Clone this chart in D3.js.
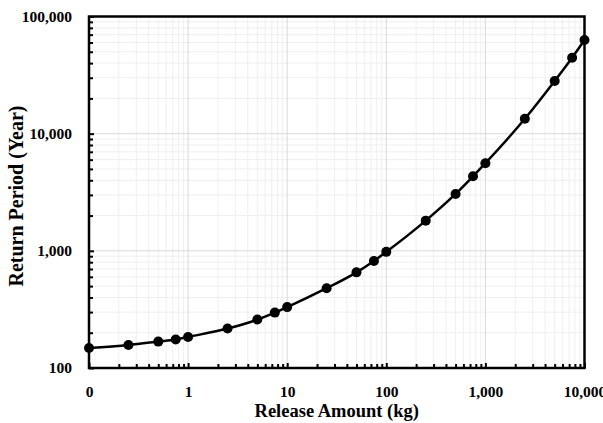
<!DOCTYPE html>
<html>
<head>
<meta charset="utf-8">
<script src="https://cdnjs.cloudflare.com/ajax/libs/d3/7.8.5/d3.min.js"></script>
<style>
  body { margin: 0; background: #fff; }
  svg text { font-family: "Liberation Serif", "Times New Roman", "DejaVu Serif", serif; font-weight: bold; fill: #000; }
</style>
</head>
<body>
<div id="chart-area"></div>
<script>
// Data
var releaseKg = [0.1, 0.25, 0.5, 0.75, 1, 2.5, 5, 7.5, 10, 25, 50, 75, 100, 250, 500, 750, 1000, 2500, 5000, 7500, 10000];
var returnYears = [148, 157, 168, 175, 184, 217, 259, 297, 331, 480, 655, 820, 980, 1810, 3060, 4330, 5600, 13400, 28200, 44500, 63000];
var xTicks = [0.1, 1, 10, 100, 1000, 10000];
var yTicks = [100, 1000, 10000, 100000];

var width = 603, height = 423;
var plotLeft = 89, plotRight = 584.5, plotTop = 16.5, plotBottom = 368;

var svg = d3.select("#chart-area")
  .append("svg")
    .attr("width", width)
    .attr("height", height);

var x = d3.scaleLog().domain([0.1, 10000]).range([plotLeft, plotRight]);
var y = d3.scaleLog().domain([100, 100000]).range([plotBottom, plotTop]);

// minor positions 2..9 in each decade
function minors(ticks) {
  var out = [];
  ticks.slice(0, -1).forEach(function (t) {
    for (var k = 2; k <= 9; k++) out.push(t * k);
  });
  return out;
}
var xMinor = minors(xTicks);
var yMinor = minors(yTicks);

// Gridlines
var grid = svg.append("g");
grid.selectAll(".xminor").data(xMinor).enter().append("line")
  .attr("x1", function (d) { return x(d); }).attr("x2", function (d) { return x(d); })
  .attr("y1", plotTop).attr("y2", plotBottom)
  .attr("stroke", "#efefef").attr("stroke-width", 1);
grid.selectAll(".yminor").data(yMinor).enter().append("line")
  .attr("y1", function (d) { return y(d); }).attr("y2", function (d) { return y(d); })
  .attr("x1", plotLeft).attr("x2", plotRight)
  .attr("stroke", "#efefef").attr("stroke-width", 1);
grid.selectAll(".xmajor").data(xTicks).enter().append("line")
  .attr("x1", function (d) { return x(d); }).attr("x2", function (d) { return x(d); })
  .attr("y1", plotTop).attr("y2", plotBottom)
  .attr("stroke", "#d9d9d9").attr("stroke-width", 1);
grid.selectAll(".ymajor").data(yTicks).enter().append("line")
  .attr("y1", function (d) { return y(d); }).attr("y2", function (d) { return y(d); })
  .attr("x1", plotLeft).attr("x2", plotRight)
  .attr("stroke", "#d9d9d9").attr("stroke-width", 1);

// Axes
var xAxisCall = d3.axisBottom(x)
  .tickValues(xTicks)
  .tickSizeInner(-5).tickSizeOuter(0)
  .tickPadding(18)
  .tickFormat(function (d) { return d < 1 ? "0" : d3.format(",")(d); });
var xAxisGroup = svg.append("g")
  .attr("transform", "translate(0," + plotBottom + ")")
  .call(xAxisCall)
  .attr("font-family", null);
xAxisGroup.select(".domain").remove();
xAxisGroup.selectAll("text").attr("font-size", "15.5px");
xAxisGroup.selectAll("line").attr("stroke-width", 2);

var xMinorGroup = svg.append("g")
  .attr("transform", "translate(0," + plotBottom + ")")
  .call(d3.axisBottom(x).tickValues(xMinor).tickSizeInner(-4).tickSizeOuter(0).tickFormat(""));
xMinorGroup.select(".domain").remove();
xMinorGroup.selectAll("line").attr("stroke-width", 2);

var yAxisCall = d3.axisLeft(y)
  .tickValues(yTicks)
  .tickSizeInner(-5).tickSizeOuter(0)
  .tickPadding(17)
  .tickFormat(d3.format(","));
var yAxisGroup = svg.append("g")
  .attr("transform", "translate(" + plotLeft + ",0)")
  .call(yAxisCall)
  .attr("font-family", null);
yAxisGroup.select(".domain").remove();
yAxisGroup.selectAll("text").attr("font-size", "15.5px");
yAxisGroup.selectAll("line").attr("stroke-width", 2);

var yMinorGroup = svg.append("g")
  .attr("transform", "translate(" + plotLeft + ",0)")
  .call(d3.axisLeft(y).tickValues(yMinor).tickSizeInner(-4).tickSizeOuter(0).tickFormat(""));
yMinorGroup.select(".domain").remove();
yMinorGroup.selectAll("line").attr("stroke-width", 2);

// Frame
svg.append("rect")
  .attr("x", plotLeft).attr("y", plotTop)
  .attr("width", plotRight - plotLeft).attr("height", plotBottom - plotTop)
  .attr("fill", "none").attr("stroke", "#000").attr("stroke-width", 2.5);

// Line and markers
var data = releaseKg.map(function (d, i) { return { kg: d, yr: returnYears[i] }; });

var line = d3.line()
  .x(function (d) { return x(d.kg); })
  .y(function (d) { return y(d.yr); })
  .curve(d3.curveMonotoneX);

svg.append("path")
  .datum(data)
  .attr("d", line)
  .attr("fill", "none")
  .attr("stroke", "#000")
  .attr("stroke-width", 2.5);

svg.selectAll("circle").data(data).enter().append("circle")
  .attr("cx", function (d) { return x(d.kg); })
  .attr("cy", function (d) { return y(d.yr); })
  .attr("r", 5)
  .attr("fill", "#000");

// Axis titles
svg.append("text")
  .attr("x", (plotLeft + plotRight) / 2)
  .attr("y", 417)
  .attr("font-size", "18.5px")
  .attr("text-anchor", "middle")
  .text("Release Amount (kg)");

svg.append("text")
  .attr("transform", "translate(23,196) rotate(-90)")
  .attr("font-size", "20px")
  .attr("text-anchor", "middle")
  .text("Return Period (Year)");
</script>
</body>
</html>
